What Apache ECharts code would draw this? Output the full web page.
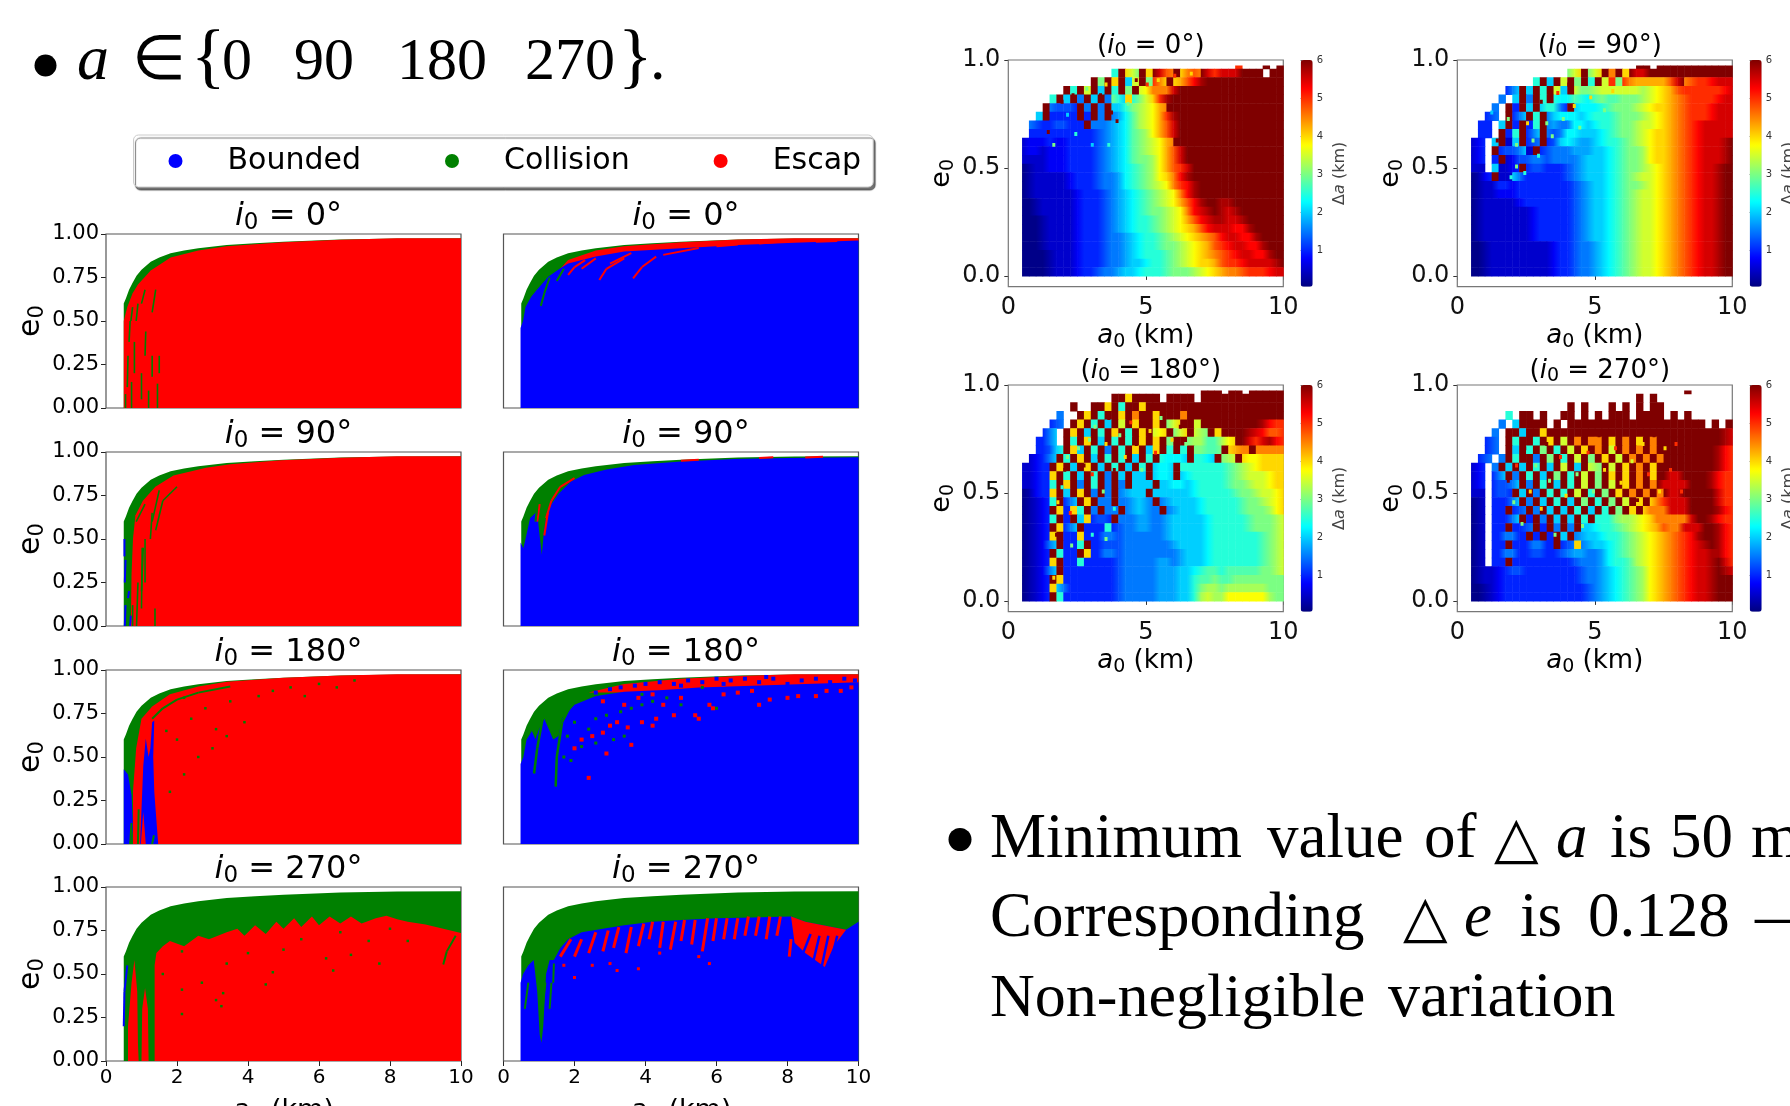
<!DOCTYPE html>
<html><head><meta charset="utf-8">
<style>html,body{margin:0;padding:0;background:#fff;overflow:hidden}#c{width:1790px;height:1106px}</style>
<script src="https://cdn.jsdelivr.net/npm/echarts@6/dist/echarts.min.js"></script></head>
<body><div id="c"></div>
<script>
// ---------- outcome-map regions: [a0 (km), e0] ----------
const envelope=[[.5,0],[.5,.6],[.56,.63],[.65,.68],[.75,.72],[.86,.76],[1,.795],[1.26,.84],[1.5,.865],[1.82,.89],[2.2,.905],[2.6,.918],[3.4,.937],[4.2,.947],[5,.956],[6.6,.968],[8.2,.974],[10,.975],[10,0]];
const redL0=[[.5,0],[.5,.5],[.6,.58],[.75,.66],[.9,.71],[1.26,.79],[1.82,.865],[2.6,.905],[3.4,.93],[5,.953],[6.6,.967],[8.2,.975],[10,.975],[10,0]];
const greenSegL0=[[.55,0,.55,.08],[.6,.12,.62,.3],[.65,.38,.68,.5],[.72,0,.72,.15],[.8,.2,.8,.38],[.85,.5,.9,.6],[1,.05,1,.2],[1.1,.3,1.12,.44],[1.2,0,1.2,.1],[1.3,.18,1.3,.3],[1.45,0,1.45,.14],[1.5,.2,1.5,.3],[1,.6,1.1,.68],[1.3,.55,1.4,.68],[.7,.5,.75,.58]];
const redL1=[[1.6,.8],[1.82,.85],[2.6,.905],[3.4,.93],[5,.953],[6.6,.968],[8.2,.975],[10,.975],[10,.955],[8.2,.945],[6.6,.93],[5,.905],[3.4,.875],[2.6,.85],[1.82,.8]];
const blueL1=[[.48,0],[.48,.46],[.55,.5],[.62,.58],[.78,.64],[.94,.68],[1.26,.755],[1.58,.8],[1.82,.83],[2.6,.87],[3.4,.9],[5,.918],[6.6,.937],[8.2,.95],[10,.962],[10,0]];
const redSegL1=[[1.82,.765,2,.81],[2,.81,2.3,.85],[2.7,.736,2.9,.8],[2.9,.8,3.4,.86],[3.65,.745,3.9,.81],[3.9,.81,4.3,.87],[2.2,.8,2.6,.86],[3,.83,3.6,.89],[4.5,.88,5.5,.92],[6,.93,6.6,.94],[7.2,.945,7.8,.955],[8.8,.955,9.4,.96]];
const greenSegL1=[[1.05,.587,1.15,.66],[1.15,.66,1.3,.75],[1.5,.73,1.7,.8]];
const redL2=[[.7,0],[.72,.3],[.76,.5],[.83,.637],[1.04,.72],[1.39,.8],[1.9,.865],[2.82,.91],[3.5,.93],[4.94,.953],[6.6,.967],[8.2,.975],[10,.975],[10,0]];
const blueSegL2=[[.52,.4,.52,.5],[.53,.25,.55,.38],[.53,0,.55,.12],[.68,0,.7,.06],[.62,.16,.65,.2]];
const greenSegL2=[[.75,0,.75,.12],[.86,0,.9,.25],[1,.1,1.02,.45],[1,.2,1.05,.45],[1.1,.25,1.1,.5],[1.25,.5,1.3,.65],[1.38,0,1.38,.1],[1.4,.55,1.6,.72],[1.6,.72,2,.8],[.85,.6,1.1,.7],[1.3,.6,1.5,.78]];
const blueL3=[[.48,0],[.48,.48],[.56,.447],[.62,.5],[.75,.62],[.95,.66],[1,.55],[1.08,.41],[1.14,.55],[1.2,.62],[1.35,.7],[1.55,.76],[1.9,.83],[2.27,.868],[2.9,.9],[3.68,.925],[5,.945],[6.5,.96],[8,.966],[10,.97],[10,0]];
const redSegL3=[[1.2,.62,1.35,.72],[1.35,.72,1.6,.8],[1.15,.52,1.25,.65],[1.6,.8,2,.85],[.95,.6,1.02,.7],[5,.95,5.5,.955],[7.2,.965,7.6,.97],[8.5,.968,9,.972]];
const greenSegL3=[[.9,.6,.95,.68],[1,.72,1.2,.78]];
const redL4=[[.76,0],[.76,.3],[.85,.55],[1,.72],[1.3,.79],[1.8,.86],[2.6,.905],[3.4,.932],[5,.955],[6.6,.968],[8.2,.975],[10,.975],[10,0]];
const blueStripL4=[[.5,0],[.5,.43],[.62,.4],[.72,.28],[.76,.1],[.7,0]];
const blueWedgeL4=[[.96,0],[1,.2],[1.05,.45],[1.12,.607],[1.2,.5],[1.25,.55],[1.3,.7],[1.36,.71],[1.33,.5],[1.36,.3],[1.47,0]];
const redSpikeL4=[[.98,0],[1.05,.185],[1.12,0]];
const greenSegL4=[[1.3,.72,1.6,.78],[1.6,.78,2,.83],[2,.83,2.6,.87],[2.6,.87,3.5,.905],[1.3,0,1.35,.05],[.68,0,.72,.12],[.9,0,.92,.2]];
const greenSpeckL4=[[2,.6],[2.4,.72],[2.8,.78],[3.1,.66],[3.5,.82],[3.9,.7],[4.3,.85],[4.7,.88],[2.2,.4],[2.6,.5],[3,.55],[5.2,.9],[5.6,.85],[6,.92],[6.5,.9],[7,.94],[1.8,.3],[1.7,.65],[3.4,.62],[2.2,.84]];
const redL5=[[2.4,.87],[3.4,.92],[5,.95],[6.6,.965],[8.2,.975],[10,.975],[10,.9],[8,.89],[5,.87],[3.4,.87]];
const blueL5=[[.48,0],[.48,.46],[.56,.5],[.65,.6],[.8,.65],[.9,.6],[1,.66],[1.15,.72],[1.4,.6],[1.55,.62],[1.65,.72],[2,.8],[2.6,.85],[3.4,.875],[4.5,.885],[5.5,.9],[7,.91],[8.5,.92],[10,.93],[10,0]];
const greenSegL5=[[.86,.405,.95,.55],[.95,.55,1.1,.72],[1.47,.33,1.5,.5],[1.5,.5,1.65,.7],[1.65,.7,1.9,.8]];
const redSpeckL5=[[2.9,.52],[3.6,.57],[2.4,.38],[3.5,.67],[3.9,.7],[4.3,.72],[4.2,.68],[4.8,.74],[5.4,.74],[5.5,.72],[5.8,.8],[5.9,.78],[7.2,.8],[7.5,.83],[8,.84],[8.3,.85],[8.8,.85],[9.1,.88],[9.5,.88],[9.8,.9],[2.5,.62],[2.8,.64],[3,.68],[3.2,.7],[2.2,.6],[2,.55],[6.2,.86],[6.6,.87],[7,.88],[4.5,.8],[5,.84],[3.4,.8],[3.8,.84],[4.2,.86],[2.8,.82]];
const blueSpeckL5=[[2.6,.87],[3,.89],[3.3,.9],[3.7,.91],[4,.92],[4.4,.93],[4.8,.92],[5.2,.94],[5.6,.93],[6,.95],[6.4,.94],[6.8,.95],[7.2,.93],[7.6,.95],[8,.92],[8.4,.94],[8.8,.95],[9.2,.93],[9.6,.95],[9.9,.94],[5,.91],[6.2,.92],[7.4,.96]];
const greenSpeckL5=[[1.8,.62],[2,.7],[2.2,.56],[2.4,.66],[2.6,.72],[2.9,.74],[3.1,.6],[3.3,.76],[3.6,.78],[3.9,.8],[4.2,.82],[4.6,.84],[5,.8],[5.6,.9],[6,.78],[1.7,.5],[1.9,.48],[2.6,.58],[3.4,.62],[3.9,.86]];
const redMainL6=[[1.37,0],[1.37,.55],[1.42,.62],[1.6,.66],[1.8,.69],[2.2,.66],[2.6,.72],[2.9,.7],[3.4,.74],[3.7,.76],[3.9,.72],[4.2,.78],[4.5,.73],[4.8,.8],[5,.76],[5.3,.82],[5.5,.77],[5.8,.83],[6,.78],[6.3,.83],[6.6,.79],[6.9,.83],[7.2,.79],[7.6,.82],[7.9,.835],[8.2,.815],[8.5,.8],[9,.785],[9.5,.76],[10,.735],[10,0]];
const redLeftL6=[[.62,0],[.62,.2],[.72,.45],[.8,.58],[.88,.4],[.9,.1],[.92,0]];
const redMidL6=[[1,0],[1.02,.3],[1.1,.42],[1.18,.3],[1.2,0]];
const blueSegL6=[[.5,.2,.52,.4],[.52,.4,.6,.55]];
const greenSegL6=[[9.5,.555,9.6,.63],[9.6,.63,9.85,.72]];
const greenSpeckL6=[[2.14,.41],[3.1,.35],[3.3,.39],[2.7,.45],[2.14,.63],[3.4,.56],[4.7,.51],[4.5,.44],[5,.64],[6.2,.59],[6.4,.52],[6.9,.61],[7.7,.56],[8.5,.69],[2.14,.27],[3.25,.315],[3.9,.74],[7.4,.69],[1.6,.5],[4,.62],[5.5,.7],[6.6,.74],[8,.76]];
const blueL7=[[.48,0],[.48,.45],[.55,.5],[.7,.55],[.85,.58],[.95,.4],[1.02,.15],[1.07,.105],[1.12,.2],[1.2,.5],[1.3,.58],[1.42,.58],[1.6,.65],[1.82,.7],[2.2,.74],[2.8,.76],[3.4,.78],[4.2,.8],[5,.81],[6,.82],[7,.825],[8.1,.83],[8.5,.8],[9,.78],[9.65,.755],[10,.8],[10,0]];
const redFanL7=[[8.1,.83],[8.5,.8],[9,.78],[9.65,.755],[9.3,.66],[9.05,.54],[8.5,.62],[8.2,.68]];
const blueSegL7=[[8.4,.6,8.65,.73],[8.7,.55,8.9,.72],[8.95,.53,9.15,.72],[9.2,.55,9.4,.72]];
const redSegL7=[[1.6,.6,1.9,.7],[2,.6,2.2,.7],[2.4,.62,2.6,.74],[2.8,.63,2.95,.75],[3.1,.65,3.25,.77],[3.45,.62,3.6,.77],[3.8,.66,3.95,.79],[4.1,.7,4.2,.8],[4.4,.65,4.5,.8],[4.7,.64,4.85,.8],[5,.69,5.1,.81],[5.3,.67,5.4,.81],[5.6,.63,5.75,.82],[5.9,.69,6,.82],[6.2,.7,6.3,.82],[6.5,.7,6.6,.82],[6.8,.72,6.9,.83],[7.1,.72,7.2,.83],[7.4,.7,7.5,.83],[7.7,.72,7.8,.83],[8.05,.6,8.1,.7]];
const redSpeckL7=[[2.5,.55],[3,.56],[3.8,.53],[1.7,.55],[2,.48],[3.2,.52],[5.5,.6],[5.8,.56],[4.4,.62]];
const greenSegL7=[[.6,.3,.7,.45],[1.1,.3,1.18,.45],[1.3,.3,1.35,.45],[1.4,.45,1.42,.56]];

// ---------- delta-a maps: top row e0=0.96 .. bottom e0=0, columns a0=0..10 by 0.25
// symbols 0-9,a,b,c = 0.5 km steps; '.' = no orbit
const dA0=[
".......... .......... .......... ...a...c.c",".......... .....5c86c 8ca9c8a9ca acacccc.cc",".......... ..c6c8c47c 6a8c89abcc cccccccccc","........c5 c7c4c5c6c7 8a8acccccc cccccccccc","......5c4c 3c4c364857 79bccccccc cccccccccc",".....c3232 c3c3c44667 789ccccccc cccccccccc","....4c2222 c2c3c34567 789bcccccc cccccccccc","...3222322 2c33344567 789acccccc cccccccccc","...2222222 2223344566 789acccccc cccccccccc","..12122122 2223344566 7789cccccc cccccccccc","..12112122 2223344566 7789accccc cccccccccc","..11112122 2223344566 6789accccc cccccccccc","..01112122 2223344556 6789aacccc cccccccccc","..01111112 2223334556 6788abcccc cccccccccc","..01111112 2223334556 6778aabccc cccccccccc","..01111111 2222334455 66778abccc cccccccccc","..00111111 2222334455 667789abcc cbcccccccc","..00111111 2222334455 666778abbc cbbccccccc","..00011111 2222334455 5667789abb cbbbcccccc","..00011111 2222334455 56677889ab bbbabccccc","..00011111 2222333445 5566778899 abbbabcccc","..00011111 2222333445 5566677889 aabbbabccc","..00001111 2222333445 5556677889 9aabbbabcc","..00001111 2222333444 5556677888 9aaabbbbbc","..00001111 2223334445 5556666778 8999aaaabb"];
const dA90=[
".......... .......... ......cc.c cccccccccc",".......... ......68c6 8c9c8caccc cccccccccc",".......... .5c4c7c6c5 c7a6a89898 9ac9aaabbb",".......24c 4c5c74c757 6868686778 89aaaaaaab","......3.4c 3c5c545645 6656666778 899aaaaabb",".....3.c2c 4c4642c454 5566667788 899aaaabbb","....23.c24 c5c3545445 5556666778 899aaaabbb","...22.4c2c 25c3424544 5556667778 899aabbbbb","...22.c25c 24c3245444 4556667788 899aabbbbb","..12.4c14c 23c2354434 4555667788 899aabbbbc","..12.c2324 1c23333434 4455666788 899aabbbbc","..12.2c123 2423333344 4455666788 899aabbbbc","..11.4112c 2322223344 4455666778 899aabbbcc","..012c1142 2222223344 4455667778 899aabbbcc","..01113122 2222222334 4455666778 899aabbbcc","..01112122 2222222334 4455667778 899aabbbcc","..01111112 2222222334 4455667778 899aabbbcc","..01111111 1222222334 4455667778 899aabbbcc","..01111111 1222222334 4455667778 899aabbbcc","..01111111 1222222334 4455667778 899aabbbcc","..01111111 1222222334 4455667778 899aabbbcc","..00111111 1111222333 4455667778 899aabbbcc","..00111111 1111222333 4455667778 899aabbbcc","..00111111 1111222333 4455667778 899aabbbcc","..00111111 1111222333 4455667778 899aabbbcc"];
const dA180=[
".......... .......... ........cc c.cc.ccccc",".......... .....cc8cc cc.cccc.cc cccccccccc",".........c ..cc8c5cc8 cccccccccc cccccccccc",".......3.. c8c5cc8c9c c8ccc9cccc cccccccccc","......23.c 8c5c4c7c8c c8c68cc7cc cccccccbaa",".....24.c8 c4c5c8c5c8 c78c68c76c 8ccccbba9a","....224.c5 c8c4c5c5c8 c8c6cc6765 678ccaacba","....2235c8 4c5c3c5c8c 48c5c5c665 6c899c9999","...1224c5c 8c4c5c5c4c 5c5454c554 c67c878888","..1122c8c4 c8c4c5c4c5 c454c55555 5566778888","..11228c5c 4c5c3c4c44 c454c45555 5566777788","..11225c8c 3c5c3c3c44 4c44544555 5566677788","..01228c4c 8c3c3c3444 c444444555 5556667778","..01125c24 c8c33c3344 3c34444455 5555666778","..0112c828 5c3c33c344 33c3444455 5555666678","..01125c2c 48232c3334 3334444445 5555566667","..0112c824 c222523334 3334444445 5555566667","..01128c22 8222423333 3334444445 5555555667","..01124c22 5c22323333 3333444445 5555555667","..0112c522 c822423333 3333344445 5555555667","..01128c22 5222223333 3343344445 5555555667","..01124c22 2222223333 3343444556 5565656667","..0112c822 2222223333 3343444656 6566666666","..01128422 2222223333 3343444667 6676767666","..0112c522 2222223333 3343444677 6787878766"];
const dA270=[
".......... .......... .......... ...c......",".......... .......... ......c.c. ..........",".......... ......c.c. ..c.c.c.cc ..........",".......5.c c.c..cc.c. c.ccc.cccc .c.c......","......3.4c ccc.c.cccc cccccccccc cccccc.c.c",".....3.cc4 cc8ccccccc cccccccccc cccccccccb","....23.c5c c5c8c7c9c9 9c8c9c8c9c cccccccccb","....23.c4c 5c6c5c7c8c 9c7c9c9c9c ccccccccba","...23.3c5c c3c6c5c7c6 c8c7c9c9c9 ccccccccba","..12.3c4c4 c5c4c7c4c7 6c7c8c9c8c ccccccccba","..12.24c3c 5c4c6c5c7c 6c8c8c9c8c cacccccbaa","..12.2324c 3c5c4c5c7c 6c7c8c9c9c acaccccbaa","..11.232c4 c3c5c5c7c5 c6c8c9c9c9 caccccccaa","..01.2224c 3c4c5c4c6c 5c6c7c8c8a acacccccaa","..01.22c23 c3c4c4c5c4 c5c6c8c8a8 acacccccba","..01.2224c 2c3c4c4c5c 555767788a 8a8acccbaa","..01.22c22 3c2c3c3c44 5556677889 a8acacccba","..01.22422 c2c2c4c344 4555667788 99aabcccba","..01.22c22 2422c23834 4455667788 99aabbccba","..01.22422 2322233433 3455667788 99aabbbcba","..01.22c22 2222222333 3455567788 99aabbbcca","..01112232 2222222233 3445566788 99aabbbccb","..01112222 2222222233 3445566788 99aabbbccc","..00112222 2222222223 3445566788 99aabbbccc","..00112222 2222222223 3445566788 99aabbbccc"];
// isolated specks in the chaotic zones: [a0, e0, delta-a]
const speckDA0=[[1.9,.8,6],[2.3,.83,6],[2.6,.78,6],[3.1,.74,6],[3.3,.83,6],[3.7,.75,6],[3.9,.71,6],[4.1,.86,6],[4.6,.9,6],[5,.88,5],[5.4,.9,4],[2.1,.74,2],[2.8,.86,3],[3.5,.88,4],[4.3,.79,3],[1.4,.66,6],[1.6,.6,3],[2.4,.65,2.5],[3,.6,2],[3.6,.6,2.5],[6,.92,5],[6.6,.93,4]];
const speckDA90=[[1.8,.72,3],[2.1,.6,3],[2.1,.5,3],[2.3,.78,6],[2.5,.7,4],[2.7,.62,3],[2.9,.55,2.5],[3,.8,6],[3.2,.7,3],[3.4,.64,3],[3.6,.84,5],[3.8,.72,3],[4,.88,6],[4.2,.78,4],[4.4,.68,3],[4.6,.9,6],[4.8,.82,4],[5.1,.9,6],[5.3,.76,3],[5.6,.85,4],[1.4,.62,6],[1.2,.75,2],[1.9,.45,2.5],[2.4,.47,2.5]];
const speckDA180=[[1.6,.1,4],[1.7,.3,6],[1.75,.45,4],[1.9,.52,2.5],[2,.6,6],[2.1,.66,3],[2.2,.4,5],[2.25,.25,3],[2.35,.55,6],[2.5,.7,3],[2.6,.5,4],[2.7,.62,6],[2.9,.74,3],[3,.58,5],[3.1,.8,3],[3.25,.66,6],[3.4,.5,3],[3.5,.72,4],[3.6,.84,6],[3.8,.6,6],[4,.76,3],[4.2,.66,4],[4.4,.82,5],[4.6,.72,6],[4.8,.6,3],[5.1,.78,4],[5.3,.68,5],[5.5,.84,3],[5.9,.74,4],[6.2,.8,6],[6.4,.72,3],[6.6,.66,6],[3,.3,2.5],[3.5,.28,3],[3.8,.42,2.5]];
const speckDA270=[[1.8,.55,6],[2,.45,3],[2.1,.62,5],[2.3,.35,3],[2.4,.7,6],[2.6,.5,4],[2.8,.62,3],[3,.42,4],[3.2,.72,6],[3.3,.55,3],[3.5,.3,3],[3.7,.66,5],[3.9,.48,4],[4.1,.74,6],[4.3,.58,3],[4.5,.34,3],[4.7,.68,5],[4.9,.5,3],[5.1,.76,6],[5.3,.6,4],[5.5,.44,3],[5.7,.7,5],[5.9,.54,4],[6.1,.78,6],[6.3,.64,3.5],[6.5,.46,6],[6.7,.72,4],[6.9,.58,5],[7.1,.76,6],[7.3,.5,4],[7.5,.7,4],[7.7,.6,5],[7.9,.72,5],[8.1,.5,5]];

// ---------- labels and ticks ----------
const outcomeNames=['Bounded','Collision','Escap'];
const angles=['0','90','180','270'];
const rightETicks=[0,.5,1], colorTicks=[1,2,3,4,5,6];
const jet=['#00007f','#0000ff','#007fff','#00ffff','#7fff7f','#ffff00','#ff7f00','#ff0000','#7f0000'];
const slideWords=[
 [77,78,'a',1,64],[132,78,'∈',0,62],[191,78,'{',0,72],[222,78,'0',0,60],[294,78,'90',0,60],[397,78,'180',0,60],[525,78,'270',0,60],[618,78,'}',0,72],[650,78,'.',0,62],
 [990,856,'Minimum',0,63],[1267,856,'value',0,63],[1424,856,'of',0,63],[1494,856,'△',0,58],[1556,856,'a',1,63],[1610,856,'is',0,63],[1670,856,'50',0,63],[1751,856,'m',0,63],
 [990,935,'Corresponding',0,63],[1403,935,'△',0,58],[1464,935,'e',1,63],[1520,935,'is',0,63],[1588,935,'0.128',0,63],[1755,935,'—',0,63],
 [990,1015,'Non-negligible',0,62],[1388,1015,'variation',0,64]];

const G='#008000',R='#ff0000',B='#0000ff',SANS='"DejaVu Sans"';
const colX=[106,503.5],rowY=[234,452,670,887];
const leftPanels=[
 {c:0,r:0,polys:[[envelope,G],[redL0,R]],segs:[[greenSegL0,G,1.6]],specks:[]},
 {c:1,r:0,polys:[[envelope,G],[redL1,R],[blueL1,B]],segs:[[redSegL1,R,2],[greenSegL1,G,2]],specks:[]},
 {c:0,r:1,polys:[[envelope,G],[redL2,R]],segs:[[blueSegL2,B,2],[greenSegL2,G,1.6]],specks:[]},
 {c:1,r:1,polys:[[envelope,G],[blueL3,B]],segs:[[redSegL3,R,2],[greenSegL3,G,2]],specks:[]},
 {c:0,r:2,polys:[[envelope,G],[redL4,R],[blueStripL4,B],[blueWedgeL4,B],[redSpikeL4,R]],segs:[[greenSegL4,G,2]],specks:[[greenSpeckL4,G,2.5]]},
 {c:1,r:2,polys:[[envelope,G],[redL5,R],[blueL5,B]],segs:[[greenSegL5,G,2.5]],specks:[[redSpeckL5,R,4],[blueSpeckL5,B,4],[greenSpeckL5,G,3]]},
 {c:0,r:3,polys:[[envelope,G],[redMainL6,R],[redLeftL6,R],[redMidL6,R]],segs:[[blueSegL6,B,2],[greenSegL6,G,2]],specks:[[greenSpeckL6,G,2.5]]},
 {c:1,r:3,polys:[[envelope,G],[blueL7,B],[redFanL7,R]],segs:[[blueSegL7,B,2.5],[redSegL7,R,3],[greenSegL7,G,2]],specks:[[redSpeckL7,R,3]]}
];
const rightPanels=[[1008.3,60,dA0,speckDA0,0],[1457.3,60,dA90,speckDA90,1],[1008.3,385,dA180,speckDA180,2],[1457.3,385,dA270,speckDA270,3]];

const grid=[],xAxis=[],yAxis=[],series=[],title=[],visualMap=[];
const rich=(s1,s2)=>{const c={fontFamily:SANS,color:'#000',fontWeight:'normal'};return{i:{...c,fontStyle:'italic',fontSize:s1},s:{...c,fontSize:s2,padding:[Math.round(s1*.42),0,0,0]},n:{...c,fontSize:s1}};};
let z=2;
leftPanels.forEach((p,k)=>{
  const L=colX[p.c],T=rowY[p.r],bottom=p.r===3,left=p.c===0;
  grid.push({left:L,top:T,width:355,height:174,show:true,borderColor:'#555',borderWidth:1.2,backgroundColor:'#fff',z:1,outerBoundsMode:'none'});
  xAxis.push({gridIndex:k,type:'value',min:0,max:10,interval:2,splitLine:{show:false},axisLine:{show:false},
    axisTick:{show:bottom,length:5,lineStyle:{color:'#222'}},axisLabel:{show:bottom,fontSize:20,fontFamily:SANS,color:'#000',margin:7},
    name:bottom?'{i|a}{s|0}{n| (km)}':'',nameLocation:'middle',nameGap:34,nameTextStyle:{rich:rich(27,20)}});
  yAxis.push({gridIndex:k,type:'value',min:0,max:1,interval:.25,splitLine:{show:false},axisLine:{show:false},
    axisTick:{show:left,length:5,lineStyle:{color:'#222'}},axisLabel:{show:left,fontSize:21,fontFamily:SANS,color:'#000',margin:7,padding:[4,0,0,0],formatter:v=>v.toFixed(2)},
    name:left?'{n|e}{s|0}':'',nameLocation:'middle',nameRotate:90,nameGap:56,nameTextStyle:{rich:rich(30,21)}});
  title.push({text:'{i|i}{s|0}{n| = '+angles[p.r]+'°}',left:L+177.5,top:T-40,textAlign:'center',textStyle:{fontWeight:'normal',rich:rich(32,23)}});
  p.polys.forEach(([pts,col])=>{const zz=z++;series.push({type:'custom',xAxisIndex:k,yAxisIndex:k,data:pts,encode:{x:0,y:1},silent:true,clip:true,z:zz,
    renderItem(pr,api){if(pr.dataIndex!==0)return;return{type:'polygon',shape:{points:pts.map(d=>api.coord(d))},style:{fill:col}};}});});
  p.segs.forEach(([segs,col,w])=>{const zz=z++;series.push({type:'custom',xAxisIndex:k,yAxisIndex:k,data:segs,encode:{x:[0,2],y:[1,3]},silent:true,clip:true,z:zz,
    renderItem(pr,api){const a=api.coord([api.value(0),api.value(1)]),b=api.coord([api.value(2),api.value(3)]);return{type:'line',shape:{x1:a[0],y1:a[1],x2:b[0],y2:b[1]},style:{stroke:col,lineWidth:w}};}});});
  p.specks.forEach(([sp,col,size])=>{series.push({type:'scatter',xAxisIndex:k,yAxisIndex:k,data:sp,symbol:'rect',symbolSize:size,itemStyle:{color:col,opacity:1},silent:true,z:z++});});
});
let gi=leftPanels.length;
const VMIN=.05,VMAX=6,tOf=v=>Math.min(1,Math.max(0,(v-VMIN)/(VMAX-VMIN)));
rightPanels.forEach(([L,T,mat,specks,idx])=>{
  const k=gi;
  grid.push({left:L,top:T,width:275,height:226.7,show:true,borderColor:'#777',borderWidth:1.2,z:1,outerBoundsMode:'none'});
  xAxis.push({gridIndex:k,type:'value',min:0,max:10,interval:5,splitLine:{show:false},axisLine:{show:false},axisTick:{length:4,lineStyle:{color:'#333'}},
    axisLabel:{fontSize:24,fontFamily:SANS,color:'#111',margin:9},name:'{i|a}{s|0}{n| (km)}',nameLocation:'middle',nameGap:35,nameTextStyle:{rich:rich(26,19)}});
  yAxis.push({gridIndex:k,type:'value',min:-.05,max:1,splitLine:{show:false},axisLine:{show:false},axisTick:{length:4,lineStyle:{color:'#333'},customValues:rightETicks},
    axisLabel:{fontSize:24,fontFamily:SANS,color:'#111',margin:8,padding:[6,0,0,0],customValues:rightETicks,formatter:v=>v.toFixed(1)},name:'{n|e}{s|0}',nameLocation:'middle',nameRotate:90,nameGap:51,nameTextStyle:{rich:rich(27,19)}});
  title.push({text:'{n|(}{i|i}{s|0}{n| = '+angles[idx]+'°)}',left:L+137.5,top:T-34,textAlign:'center',textStyle:{fontWeight:'normal',rich:rich(26,19)}});
  const val=c=>{if(c===undefined||c==='.')return null;const n=parseInt(c,13);return n===0?.1:n*.5;};
  const cells=[];
  mat.forEach((row,ri)=>{const s=row.replace(/ /g,'');const e=(mat.length-1-ri)*.04;
    for(let ci=0;ci<s.length;ci++){const v=val(s[ci]);if(v===null)continue;
      const p=val(s[ci-1]),n=val(s[ci+1]);
      const lv=(p!==null&&Math.abs(p-v)<=1)?(p+v)/2:v, rv=(n!==null&&Math.abs(n-v)<=1)?(n+v)/2:v;
      cells.push([ci*.25,e,(ci+1)*.25,Math.min(e+.04,.975),v,lv,rv]);}});
  specks.forEach(([a,e,v])=>cells.push([a,e,a+.09,e+.016,v,v,v]));
  const si=series.length;
  series.push({type:'custom',xAxisIndex:k,yAxisIndex:k,data:cells,encode:{x:[0,2],y:[1,3]},silent:true,clip:true,z:z++,
    renderItem(pr,api){const a=api.coord([api.value(0),api.value(1)]),b=api.coord([api.value(2),api.value(3)]);
      const c0=echarts.color.lerp(tOf(api.value(5)),jet),c1=echarts.color.lerp(tOf(api.value(6)),jet);
      return{type:'rect',shape:{x:a[0],y:b[1],width:b[0]-a[0]+.5,height:a[1]-b[1]+.5},
        style:{fill:new echarts.graphic.LinearGradient(0,0,1,0,[{offset:0,color:c0},{offset:1,color:c1}])}};}});
  visualMap.push({type:'continuous',min:VMIN,max:VMAX,dimension:4,seriesIndex:si,left:L+292.4,top:T,itemWidth:12,itemHeight:226.7,padding:0,text:null,showLabel:false,calculable:false,realtime:false,inRange:{color:jet}});
  gi++;
  grid.push({left:L+292.4,top:T,width:12,height:226.7,show:false,outerBoundsMode:'none'});
  xAxis.push({gridIndex:gi,type:'value',min:0,max:1,show:false});
  yAxis.push({gridIndex:gi,type:'value',min:VMIN,max:VMAX,position:'right',splitLine:{show:false},axisLine:{show:false},axisTick:{length:3,lineStyle:{color:'#444'},customValues:colorTicks},
    axisLabel:{fontSize:10,fontFamily:SANS,color:'#333',margin:4,customValues:colorTicks,formatter:v=>String(v)},name:'{g|Δ}{gi|a}{g| (km)}',nameLocation:'middle',nameRotate:90,nameGap:19,
    nameTextStyle:{rich:{g:{fontSize:16,fontFamily:SANS,color:'#444'},gi:{fontSize:16,fontStyle:'italic',fontFamily:SANS,color:'#444'}}}});
  gi++;
});
// legend entries
[B,G,R].forEach((col,i)=>series.push({type:'scatter',name:outcomeNames[i],xAxisIndex:0,yAxisIndex:0,data:[],symbol:'circle',itemStyle:{color:col,opacity:1}}));

const graphic=[{type:'circle',shape:{cx:45.5,cy:65.5,r:11},style:{fill:'#000'}},{type:'circle',shape:{cx:960,cy:839.5,r:11.5},style:{fill:'#000'}}];
slideWords.forEach(([x,y,t,it,size])=>graphic.push({type:'text',x:x,y:y-size*.25,style:{text:t,fill:'#000',verticalAlign:'middle',align:'left',
  font:(it?'italic ':'')+size+'px "Liberation Serif"'}}));

const chart=echarts.init(document.getElementById('c'),null,{renderer:'canvas',width:1790,height:1106});
chart.setOption({animation:false,backgroundColor:'#fff',grid,xAxis,yAxis,series,title,visualMap,graphic,
  legend:{data:outcomeNames,left:133.5,top:135,padding:[11,12,11,35],itemGap:84,itemWidth:14,itemHeight:14,icon:'circle',backgroundColor:'#fff',borderColor:'#ccc',borderWidth:1,borderRadius:5,
    shadowColor:'rgba(0,0,0,.55)',shadowOffsetX:2,shadowOffsetY:3,shadowBlur:1,selectedMode:false,textStyle:{fontSize:30,fontFamily:SANS,color:'#000',padding:[0,0,0,40]}},
  tooltip:{show:false}});
</script></body></html>
